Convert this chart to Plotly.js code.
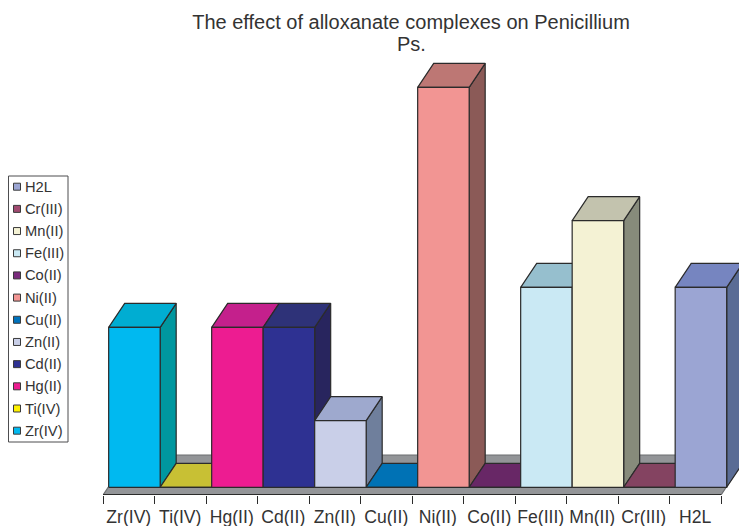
<!DOCTYPE html>
<html>
<head>
<meta charset="utf-8">
<script src="https://cdn.plot.ly/plotly-3.0.1.min.js"></script>
<style>html,body{margin:0;padding:0;background:#fff}</style>
</head>
<body>
<div id="chart" style="width:739px;height:526px"></div>
<script>
// Inhibition values per compound
const categories = ["Zr(IV)","Ti(IV)","Hg(II)","Cd(II)","Zn(II)","Cu(II)","Ni(II)","Co(II)","Fe(III)","Mn(II)","Cr(III)","H2L"];
const values = [12,0,12,12,5,0,30,0,15,20,0,15];

// Face colours of each block
const frontColors = ["#00B9F0","#FFF200","#ED1C91","#2E3192","#C9CFE8","#0072BC","#F29593","#7A2A7C","#CAE9F4","#F4F2D4","#A04A70","#9BA5D3"];
const topColors = ["#00ADD2","#C8C034","#C4208C","#2E3278","#9EA9CE","#0072B5","#BD7774","#682766","#96BFCE","#C3C3AE","#844361","#7685C0"];
const sideColors = ["#00979F","#8C8724","#8E1766","#28255E","#6F7F9C","#00507F","#8B5A57","#4A1C48","#6D8A94","#878B7B","#5E2F45","#5A6C95"];

const titleLines = ["The effect of alloxanate complexes on Penicillium", "Ps."];

// Projection of the oblique view, in axis units
const FRONT_DX = 0.11, FRONT_DY = 0.578;
const DEPTH_DX = 0.311, DEPTH_DY = 1.8;
const FLOOR_DEPTH = 3 / DEPTH_DY;
const BAR_WIDTH = 1.0;
const EDGE = "#2b2b2b";
const FLOOR = "#939598";
const INK = "#333333";

// Plot frame; the right margin stays open so the last block can run to the page edge
const M = {l:103, r:0, t:50, b:31};
const W = 739, H = 526;
const CATEGORY_PX = 51.5;
const yMin = -FRONT_DY, yMax = 32.8;
const xMin = -0.5, xEnd = 11.5, xMax = xMin + (W - M.l - M.r) / CATEGORY_PX;

function face(xs, ys, color, name, edge) {
  return {
    type:"scatter", mode:"lines", x:xs.concat(xs[0]), y:ys.concat(ys[0]),
    fill:"toself", fillcolor:color, name:name, showlegend:false,
    line:{color:edge || EDGE, width:1.2, simplify:false}, hoverinfo:"name"
  };
}

const traces = [];

// Floor slab running under all the blocks
traces.push(face(
  [xMin, xEnd, xEnd + DEPTH_DX*FLOOR_DEPTH, xMin + DEPTH_DX*FLOOR_DEPTH],
  [yMin, yMin, yMin + DEPTH_DY*FLOOR_DEPTH, yMin + DEPTH_DY*FLOOR_DEPTH],
  FLOOR, "floor", "#6d6e71"));

// Blocks, painted left to right so nearer faces overlap correctly
categories.forEach((c, i) => {
  const x0 = i - 0.5 + FRONT_DX, x1 = x0 + BAR_WIDTH, v = values[i];
  traces.push(face([x1, x1 + DEPTH_DX, x1 + DEPTH_DX, x1], [0, DEPTH_DY, v + DEPTH_DY, v], sideColors[i], c + " side"));
  traces.push(face([x0, x1, x1 + DEPTH_DX, x0 + DEPTH_DX], [v, v, v + DEPTH_DY, v + DEPTH_DY], topColors[i], c + " top"));
  traces.push(face([x0, x1, x1, x0], [0, 0, v, v], frontColors[i], c));
});

// Legend box built from paper coordinates, last series on top
const px = x => (x - M.l) / (W - M.l - M.r);
const py = y => (H - M.b - y) / (H - M.t - M.b);
const shapes = [
  {type:"line", xref:"x", yref:"y", x0:xMin, x1:xEnd, y0:yMin, y1:yMin, line:{color:"#2b2b2b", width:2}},
  {type:"rect", xref:"paper", yref:"paper", x0:px(8.5), x1:px(68), y0:py(176), y1:py(442),
   line:{color:"#4d4d4f", width:1}, fillcolor:"#fff"}
];
const annotations = [];
categories.slice().reverse().forEach((c, k) => {
  const cy = 186.7 + k * 22.18;
  const i = categories.length - 1 - k;
  shapes.push({
    type:"rect", xref:"paper", yref:"paper", x0:px(13.5), x1:px(20.5), y0:py(cy - 3.5), y1:py(cy + 3.5),
    line:{color:"#3a3a3a", width:1}, fillcolor:frontColors[i]
  });
  annotations.push({
    xref:"paper", yref:"paper", x:px(23), y:py(cy), xanchor:"left", yanchor:"middle", showarrow:false,
    text:c, font:{family:"Liberation Sans", size:14.7, color:INK}
  });
});

annotations.push({
  xref:"paper", yref:"paper", x:px(411), y:py(44), xanchor:"center", yanchor:"middle", showarrow:false,
  text:titleLines[1], font:{family:"Liberation Sans", size:20, color:INK}
});

const layout = {
  width:W, height:H, margin:M, paper_bgcolor:"#fff", plot_bgcolor:"#fff", showlegend:false,
  title:{text:titleLines[0], xref:"container", yref:"container", x:411 / W, xanchor:"center", y:1 - 21.5 / H, yanchor:"middle",
         font:{family:"Liberation Sans", size:20, color:INK}},
  xaxis:{
    type:"linear", range:[xMin, xMax], showgrid:false, zeroline:false, showline:false,
    tickmode:"array", tickvals:categories.map((_, i) => i), ticktext:categories,
    ticks:"outside", ticklen:6, tickcolor:"rgba(0,0,0,0)",
    tickfont:{family:"Liberation Sans", size:17.6, color:INK},
    minor:{tickmode:"array", tickvals:Array.from({length:categories.length + 1}, (_, i) => i - 0.5),
           ticks:"outside", ticklen:8, tickwidth:1, tickcolor:"#2b2b2b", showgrid:false}
  },
  yaxis:{range:[yMin, yMax], visible:false},
  shapes, annotations
};

Plotly.newPlot("chart", traces, layout, {displayModeBar:false, staticPlot:true});
</script>
</body>
</html>
